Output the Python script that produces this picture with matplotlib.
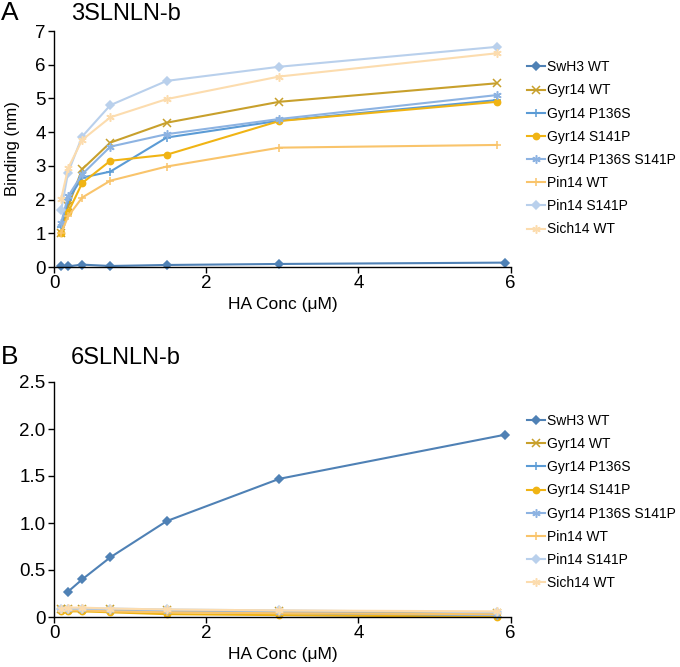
import matplotlib
matplotlib.use("Agg")
import matplotlib.pyplot as plt

plt.rcParams['font.family'] = ['Liberation Sans', 'DejaVu Sans']

series = ["SwH3 WT", "Gyr14 WT", "Gyr14 P136S", "Gyr14 S141P",
          "Gyr14 P136S S141P", "Pin14 WT", "Pin14 S141P", "Sich14 WT"]
colors = ['#4f81b5', '#c8a02c', '#5b9bd5', '#f0b414',
          '#8db3e2', '#f9c46b', '#b9d0ec', '#fcdcae']
markers = ['D', 'x', '+', 'o', (6, 2, 0), '+', 'D', (6, 2, 0)]
msizes = [4, 5.5, 6, 4.5, 6, 6, 4, 6]

x_swh3 = [0.093, 0.185, 0.37, 0.74, 1.48, 2.96, 5.93]
x_other = [0.093, 0.185, 0.37, 0.74, 1.48, 2.96, 5.82]
x_swh3_b = [0.185, 0.37, 0.74, 1.48, 2.96, 5.93]

# Panel A: 3SLNLN-b
a_swh3 = [0.04, 0.02, 0.07, 0.03, 0.06, 0.09, 0.13]
a_gyr_wt = [1.0, 1.8, 2.9, 3.69, 4.28, 4.9, 5.45]
a_gyr_p136s = [1.2, 2.0, 2.65, 2.83, 3.84, 4.34, 4.95]
a_gyr_s141p = [1.0, 1.62, 2.49, 3.15, 3.33, 4.33, 4.9]
a_gyr_p136s_s141p = [1.3, 2.1, 2.75, 3.57, 3.94, 4.39, 5.1]
a_pin_wt = [1.0, 1.5, 2.06, 2.56, 2.98, 3.54, 3.62]
a_pin_s141p = [1.68, 2.8, 3.87, 4.8, 5.52, 5.94, 6.53]
a_sich_wt = [2.01, 2.93, 3.77, 4.44, 4.98, 5.65, 6.34]

# Panel B: 6SLNLN-b
b_swh3 = [0.27, 0.40, 0.635, 1.02, 1.47, 1.94]
b_gyr_wt = [0.08, 0.08, 0.09, 0.08, 0.07, 0.06, 0.04]
b_gyr_p136s = [0.07, 0.07, 0.08, 0.07, 0.06, 0.04, 0.01]
b_gyr_s141p = [0.06, 0.06, 0.06, 0.05, 0.03, 0.02, 0.0]
b_gyr_p136s_s141p = [0.08, 0.08, 0.08, 0.07, 0.06, 0.05, 0.02]
b_pin_wt = [0.07, 0.07, 0.07, 0.06, 0.05, 0.04, 0.03]
b_pin_s141p = [0.09, 0.09, 0.09, 0.09, 0.08, 0.07, 0.05]
b_sich_wt = [0.09, 0.10, 0.10, 0.09, 0.08, 0.07, 0.06]

data_a = [(x_swh3, a_swh3), (x_other, a_gyr_wt), (x_other, a_gyr_p136s),
          (x_other, a_gyr_s141p), (x_other, a_gyr_p136s_s141p),
          (x_other, a_pin_wt), (x_other, a_pin_s141p), (x_other, a_sich_wt)]
data_b = [(x_swh3_b, b_swh3), (x_other, b_gyr_wt), (x_other, b_gyr_p136s),
          (x_other, b_gyr_s141p), (x_other, b_gyr_p136s_s141p),
          (x_other, b_pin_wt), (x_other, b_pin_s141p), (x_other, b_sich_wt)]

W, H = 680, 667
fig = plt.figure(figsize=(W / 100, H / 100), dpi=100)

def frac_axes(left, right, top, bottom):
    return fig.add_axes([left / W, 1 - bottom / H, (right - left) / W, (bottom - top) / H])

axA = frac_axes(54, 510.7, 31, 267)
axB = frac_axes(54, 510.7, 382, 617)

def draw(ax, data, ymax, yticks, yticklabels, legend_y):
    handles = []
    for (xs, ys), name, c, m, ms in zip(data, series, colors, markers, msizes):
        h, = ax.plot(xs, ys, color=c, marker=m, markersize=ms, linewidth=1.5,
                     markeredgewidth=1.1, label=name, clip_on=False)
        handles.append(h)
    ax.set_xlim(0, 6)
    ax.set_ylim(0, ymax)
    ax.set_xticks([0, 2, 4, 6])
    ax.set_xticklabels(['0', '2', '4', '6'])
    ax.set_yticks(yticks)
    ax.set_yticklabels(yticklabels)
    for s in ['top', 'right']:
        ax.spines[s].set_visible(False)
    for s in ['left', 'bottom']:
        ax.spines[s].set_linewidth(1.0)
    ax.tick_params(axis='both', direction='out', length=4, width=1.0,
                   labelsize=13.5, pad=2)
    ax.set_xlabel('HA Conc (μM)', fontsize=12.5, labelpad=3)
    fig.legend(handles=handles, loc='center left',
               bbox_to_anchor=(527 / W, 1 - legend_y / H),
               frameon=False, fontsize=10, handlelength=1.3,
               handletextpad=0.15, labelspacing=0.66, borderpad=0,
               borderaxespad=0)

draw(axA, data_a, 7, range(0, 8), [str(i) for i in range(8)], 148.4)
draw(axB, data_b, 2.5, [0, 0.5, 1.0, 1.5, 2.0, 2.5],
     ['0', '0.5', '1.0', '1.5', '2.0', '2.5'], 502)
axA.set_ylabel('Binding (nm)', fontsize=12)
axA.yaxis.set_label_coords((20 - 54) / 456.7, 0.5)

fig.text(1 / W, 1 - 13 / H, 'A', fontsize=19, va='center', ha='left')
fig.text(71 / W, 1 - 14 / H, '3SLNLN-b', fontsize=17, va='center', ha='left')
fig.text(1 / W, 1 - 357 / H, 'B', fontsize=19, va='center', ha='left')
fig.text(71 / W, 1 - 358 / H, '6SLNLN-b', fontsize=17, va='center', ha='left')

fig.savefig('out.png', dpi=100)
